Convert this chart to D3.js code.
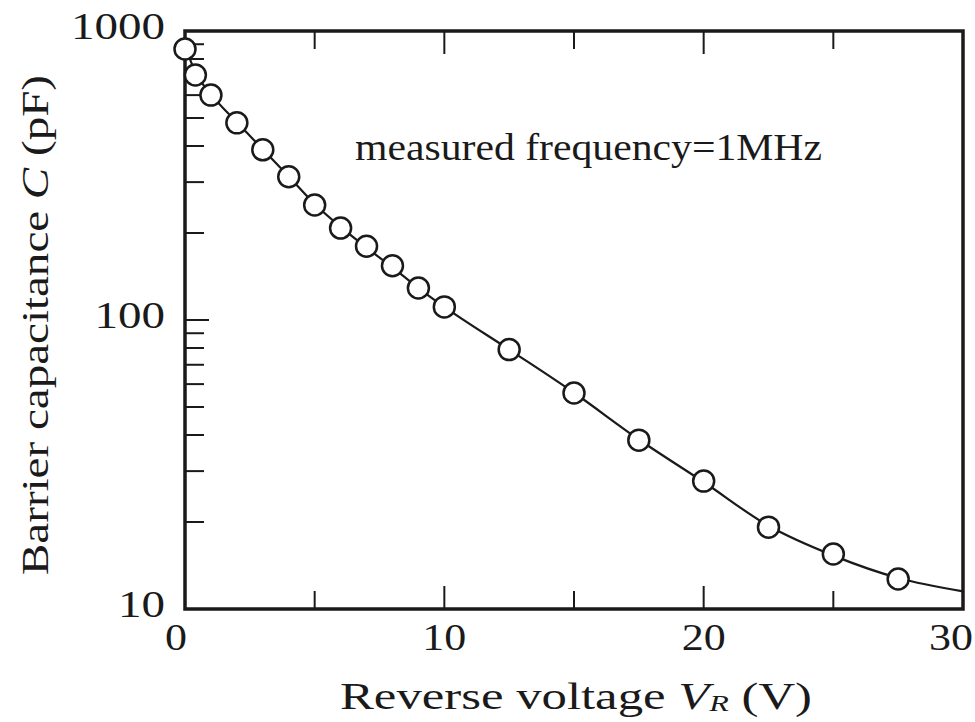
<!DOCTYPE html>
<html>
<head>
<meta charset="utf-8">
<script src="https://cdn.jsdelivr.net/npm/d3@7"></script>
<style>
  body { margin: 0; background: #fff; }
  svg text { font-family: "Liberation Serif", "DejaVu Serif", serif; fill: #1a1a1a; }
</style>
</head>
<body>
<svg id="chart" width="975" height="722"></svg>
<script>
'use strict';

// measured points
var voltage = [0, 0.4, 1, 2, 3, 4, 5, 6, 7, 8, 9, 10, 12.5, 15, 17.5, 20, 22.5, 25, 27.5];
var capacitance = [866, 704, 600, 481, 388, 313, 250, 208, 180, 154, 129, 111, 79, 55.9, 38.4, 27.7, 19.2, 15.5, 12.7];

// the smooth fitted line (follows the points, runs on to 30 V)
var fitVoltage = [0, 0.4, 1, 2, 3, 4, 5, 6, 7, 8, 9, 10, 12.5, 15, 17.5, 20, 22.5, 25, 27.5, 30];
var fitCapacitance = [890, 720, 605, 483, 390, 314, 252, 210, 178, 152, 129, 111, 79, 56, 38.6, 27.5, 19.4, 15.3, 12.8, 11.5];

var xTicks = [0, 10, 20, 30];
var xMinorTicks = [5, 15, 25];
var yTicks = [10, 100, 1000];
var yMinorTicks = [20, 30, 40, 50, 60, 70, 80, 90, 200, 300, 400, 500, 600, 700, 800, 900];

var margin = {left: 185, top: 31, right: 12, bottom: 113},
  width = 975 - margin.left - margin.right,
  height = 722 - margin.top - margin.bottom;

var svg = d3.select('#chart');
var g = svg.append('g').attr('transform', 'translate(' + margin.left + ',' + margin.top + ')');

var x = d3.scaleLinear().domain([0, 30]).range([0, width]);
var y = d3.scaleLog().domain([10, 1000]).range([height, 0]);

var ink = '#1a1a1a';

// inward ticks on bottom and top
[0, height].forEach(function(yy, i) {
  var dir = i === 0 ? 1 : -1;
  g.selectAll(null).data(xMinorTicks).enter().append('line')
    .attr('x1', function(d) { return x(d); }).attr('x2', function(d) { return x(d); })
    .attr('y1', yy).attr('y2', yy + dir * 18)
    .attr('stroke', ink).attr('stroke-width', 2);
  g.selectAll(null).data(xTicks.slice(1, -1)).enter().append('line')
    .attr('x1', function(d) { return x(d); }).attr('x2', function(d) { return x(d); })
    .attr('y1', yy).attr('y2', yy + dir * 23)
    .attr('stroke', ink).attr('stroke-width', 2);
});

// inward ticks on the left
g.selectAll(null).data(yMinorTicks).enter().append('line')
  .attr('x1', 0).attr('x2', 19)
  .attr('y1', function(d) { return y(d); }).attr('y2', function(d) { return y(d); })
  .attr('stroke', ink).attr('stroke-width', 2);
g.selectAll(null).data([100]).enter().append('line')
  .attr('x1', 0).attr('x2', 24)
  .attr('y1', function(d) { return y(d); }).attr('y2', function(d) { return y(d); })
  .attr('stroke', ink).attr('stroke-width', 2);

// frame
g.append('rect')
  .attr('width', width).attr('height', height)
  .attr('fill', 'none').attr('stroke', ink).attr('stroke-width', 3.5);

// tick labels (the original face is wide, so stretch a little)
g.selectAll('.xl').data(xTicks).enter().append('text')
  .attr('class', 'xl')
  .attr('x', function(d) { return d === 0 ? -9 : (d === 30 ? x(d) - 12 : x(d)); })
  .attr('y', height + 41)
  .attr('text-anchor', 'middle')
  .attr('font-size', 38)
  .attr('textLength', function(d) { return String(d).length * 22; })
  .attr('lengthAdjust', 'spacingAndGlyphs')
  .text(function(d) { return d; });

g.selectAll('.yl').data(yTicks).enter().append('text')
  .attr('class', 'yl')
  .attr('x', -20)
  .attr('y', function(d) { return y(d); })
  .attr('dy', '0.2em')
  .attr('text-anchor', 'end')
  .attr('font-size', 38)
  .attr('textLength', function(d) { return String(d).length * 23.5; })
  .attr('lengthAdjust', 'spacingAndGlyphs')
  .text(function(d) { return d; });

// axis titles
var xt = svg.append('text')
  .attr('x', 340)
  .attr('y', 709)
  .attr('font-size', 38)
  .attr('textLength', 472)
  .attr('lengthAdjust', 'spacingAndGlyphs');
xt.append('tspan').text('Reverse voltage ');
xt.append('tspan').attr('font-style', 'italic').text('V');
xt.append('tspan').attr('font-style', 'italic').attr('font-size', 24).attr('dy', 2).text('R');
xt.append('tspan').attr('dy', -2).text(' (V)');

var yt = svg.append('text')
  .attr('transform', 'translate(48,575) rotate(-90)')
  .attr('font-size', 38)
  .attr('textLength', 500)
  .attr('lengthAdjust', 'spacingAndGlyphs');
yt.append('tspan').text('Barrier capacitance  ');
yt.append('tspan').attr('font-style', 'italic').text('C');
yt.append('tspan').text(' (pF)');

// annotation
g.append('text')
  .attr('x', 170).attr('y', 129)
  .attr('font-size', 38)
  .attr('textLength', 467)
  .attr('lengthAdjust', 'spacingAndGlyphs')
  .text('measured frequency=1MHz');

// fitted curve
var fit = fitVoltage.map(function(v, i) { return [v, fitCapacitance[i]]; });
var line = d3.line()
  .x(function(d) { return x(d[0]); })
  .y(function(d) { return y(d[1]); })
  .curve(d3.curveMonotoneX);
g.append('path').datum(fit)
  .attr('d', line)
  .attr('fill', 'none').attr('stroke', ink).attr('stroke-width', 2.2);

// measured points
var pts = voltage.map(function(v, i) { return [v, capacitance[i]]; });
g.selectAll('.pt').data(pts).enter().append('circle')
  .attr('class', 'pt')
  .attr('cx', function(d) { return x(d[0]); })
  .attr('cy', function(d) { return y(d[1]); })
  .attr('r', 10.5)
  .attr('fill', '#fff').attr('stroke', ink).attr('stroke-width', 2.5);
</script>
</body>
</html>
